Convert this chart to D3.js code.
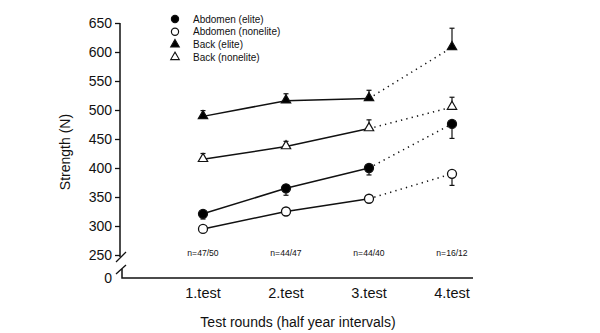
<!DOCTYPE html>
<html>
<head>
<meta charset="utf-8">
<script src="https://cdn.jsdelivr.net/npm/d3@7"></script>
<style>
  body { margin: 0; background: #fff; }
  svg { display: block; font-family: "Liberation Sans", Arial, Helvetica, sans-serif; }
</style>
</head>
<body>
<script>
const tests = ["1.test", "2.test", "3.test", "4.test"];
const groupSizes = ["n=47/50", "n=44/47", "n=44/40", "n=16/12"];
const yTicks = [250, 300, 350, 400, 450, 500, 550, 600, 650];

// mean strength (N) per test round and one-sided error (SE)
const backElite       = [489, 516, 520, 608];
const backEliteErr    = [10, 12, 14, 33];
const backNonelite    = [415, 437, 468, 505];
const backNoneliteErr = [10, 9, 15, 17];
const abdElite        = [321, 365, 400, 476];
const abdEliteErr     = [9, 12, 12, 25];
const abdNonelite     = [295, 325, 347, 390];
const abdNoneliteErr  = [3, 3, 3, 20];

const series = [
  {name: "Abdomen (elite)",    values: abdElite,     err: abdEliteErr,     shape: "circle",   fill: "#000", dir: 1},
  {name: "Abdomen (nonelite)", values: abdNonelite,  err: abdNoneliteErr,  shape: "circle",   fill: "#fff", dir: 1},
  {name: "Back (elite)",       values: backElite,    err: backEliteErr,    shape: "triangle", fill: "#000", dir: -1},
  {name: "Back (nonelite)",    values: backNonelite, err: backNoneliteErr, shape: "triangle", fill: "#fff", dir: -1}
];

const width = 600, height = 333;
const axisX = 120, baseY = 278;

const svg = d3.select("body").append("svg")
  .attr("width", width).attr("height", height);

const x = d3.scaleLinear().domain([0, 3]).range([203, 452]);
const y = d3.scaleLinear().domain([250, 650]).range([255, 23]);

const ink = "#111";

// y axis, upper part (250-650)
const yAxis = svg.append("g")
  .attr("transform", "translate(" + axisX + ",0)")
  .call(d3.axisLeft(y).tickValues(yTicks).tickSize(5).tickPadding(3).tickSizeOuter(0));
yAxis.select(".domain").remove();
yAxis.selectAll(".tick line").attr("stroke", ink).attr("stroke-width", 1.3);
yAxis.selectAll(".tick text").attr("fill", ink).style("font-size", "14px")
  .style("font-family", "Liberation Sans, Arial, sans-serif");
yAxis.append("line")
  .attr("x1", 0).attr("x2", 0).attr("y1", y(650)).attr("y2", y(250) + 2)
  .attr("stroke", ink).attr("stroke-width", 1.5);

// break marks between 250 and 0
svg.append("line")
  .attr("x1", axisX + 6).attr("y1", y(250) - 3).attr("x2", axisX - 4).attr("y2", y(250) + 7)
  .attr("stroke", ink).attr("stroke-width", 1.3);
svg.append("line")
  .attr("x1", axisX + 6).attr("y1", baseY - 13).attr("x2", axisX - 4).attr("y2", baseY - 4)
  .attr("stroke", ink).attr("stroke-width", 1.3);
svg.append("path")
  .attr("d", "M" + (axisX + 2) + "," + (baseY - 9) + "V" + baseY + "H473")
  .attr("fill", "none").attr("stroke", ink).attr("stroke-width", 1.5);
svg.append("text")
  .attr("x", axisX - 8).attr("y", baseY + 5)
  .attr("text-anchor", "end").style("font-size", "14px").attr("fill", ink)
  .text("0");

// x tick labels and group sizes
svg.selectAll(".xlab").data(tests).enter().append("text")
  .attr("class", "xlab")
  .attr("x", (d, i) => x(i)).attr("y", 298)
  .attr("text-anchor", "middle").style("font-size", "14.5px").attr("fill", ink)
  .text(d => d);
svg.selectAll(".nlab").data(groupSizes).enter().append("text")
  .attr("class", "nlab")
  .attr("x", (d, i) => x(i)).attr("y", 256)
  .attr("text-anchor", "middle").style("font-size", "8.6px").attr("fill", ink)
  .text(d => d);

// axis titles
svg.append("text")
  .attr("x", 298).attr("y", 327)
  .attr("text-anchor", "middle").style("font-size", "14px").attr("fill", ink)
  .text("Test rounds (half year intervals)");
svg.append("text")
  .attr("transform", "translate(70,152) rotate(-90)")
  .attr("text-anchor", "middle").style("font-size", "14px").attr("fill", ink)
  .text("Strength (N)");

const line = d3.line().x((d, i) => x(i)).y(d => y(d));
const triangle = d3.symbol().type(d3.symbolTriangle).size(38);

series.forEach(s => {
  const g = svg.append("g");
  // solid across the first three rounds, dotted to the last one
  g.append("path")
    .attr("d", line(s.values.slice(0, 3)))
    .attr("fill", "none").attr("stroke", ink).attr("stroke-width", 1.5);
  g.append("line")
    .attr("x1", x(2)).attr("y1", y(s.values[2]))
    .attr("x2", x(3)).attr("y2", y(s.values[3]))
    .attr("stroke", ink).attr("stroke-width", 1.5)
    .attr("stroke-dasharray", "1.3,4.2");

  // one-sided error bars
  s.values.forEach((v, i) => {
    const ye = y(v - s.dir * s.err[i]);
    g.append("line")
      .attr("x1", x(i)).attr("x2", x(i)).attr("y1", y(v)).attr("y2", ye)
      .attr("stroke", ink).attr("stroke-width", 1.2);
    g.append("line")
      .attr("x1", x(i) - 2.5).attr("x2", x(i) + 2.5).attr("y1", ye).attr("y2", ye)
      .attr("stroke", ink).attr("stroke-width", 1.2);
  });

  s.values.forEach((v, i) => {
    if (s.shape === "circle") {
      g.append("circle")
        .attr("cx", x(i)).attr("cy", y(v)).attr("r", 4.5)
        .attr("fill", s.fill).attr("stroke", ink).attr("stroke-width", 1.3);
    } else {
      g.append("path")
        .attr("d", triangle())
        .attr("transform", "translate(" + x(i) + "," + (y(v) - 0.5) + ")")
        .attr("fill", s.fill).attr("stroke", ink).attr("stroke-width", 1.2);
    }
  });
});

// legend
const legend = svg.append("g").attr("transform", "translate(175,19)");
series.forEach((s, i) => {
  const row = legend.append("g").attr("transform", "translate(0," + (i * 12.7) + ")");
  if (s.shape === "circle") {
    row.append("circle").attr("r", 3.6)
      .attr("fill", s.fill).attr("stroke", ink).attr("stroke-width", 1.2);
  } else {
    row.append("path").attr("d", d3.symbol().type(d3.symbolTriangle).size(32)())
      .attr("fill", s.fill).attr("stroke", ink).attr("stroke-width", 1.1);
  }
  row.append("text")
    .attr("x", 18).attr("y", 3.5)
    .style("font-size", "10px").attr("fill", ink)
    .text(s.name);
});
</script>
</body>
</html>
